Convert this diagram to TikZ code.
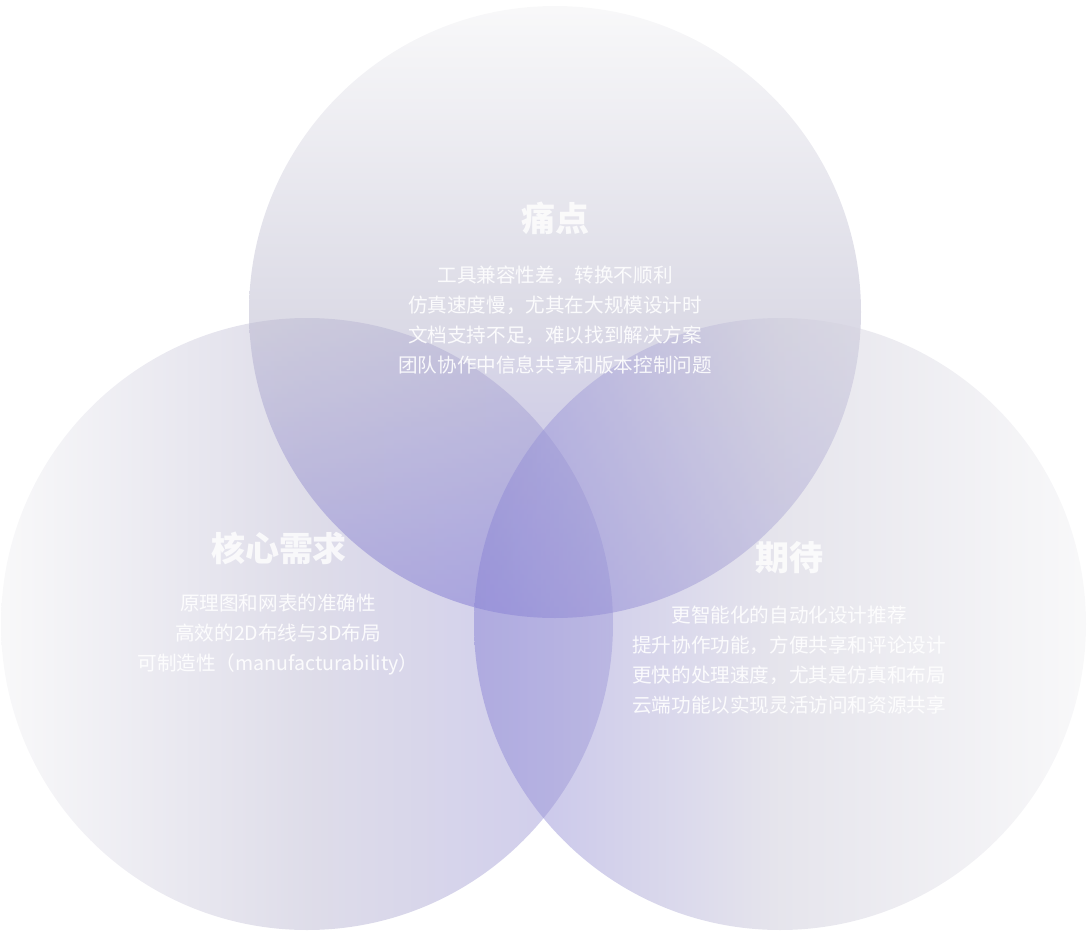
\documentclass[tikz,border=0pt]{standalone}
\usepackage{fontspec}
\setmainfont{Noto Sans CJK SC}
\usetikzlibrary{positioning}
\definecolor{mylight}{RGB}{242,242,244}
\definecolor{paintmid}{RGB}{186,184,206}
\definecolor{paintbot}{RGB}{126,118,210}
\definecolor{needmid}{RGB}{190,187,212}
\definecolor{needright}{RGB}{156,150,218}
\definecolor{hopeleft}{RGB}{138,132,214}
\definecolor{hopemid}{RGB}{205,203,218}

\begin{document}
\begin{tikzpicture}[x=0.5pt,y=-0.5pt,
    venn/.style={circle,minimum size=306pt,inner sep=0pt,fill opacity=0.5},
    title/.style={font=\bfseries\fontsize{17}{20}\selectfont,text=white,text opacity=0.8},
    lines/.style={font=\fontsize{9.8}{15}\selectfont,text=white,text opacity=0.9,align=center}
    ]
    \useasboundingbox (0,0) rectangle (1089,932);

    % the circles
    \node (need) [venn,left color=mylight,right color=needright,middle color=needmid] at (307,624) {};
    \node (pain) [venn,top color=mylight,bottom color=paintbot,middle color=paintmid] at (555,312) {};
    \node (hope) [venn,left color=hopeleft,right color=mylight,middle color=hopemid] at (780,624) {};

    % the texts
    \node (painT) [title] at (555,218) {痛点};
    \node (painL) [lines] at (555,320) {工具兼容性差，转换不顺利\\仿真速度慢，尤其在大规模设计时\\文档支持不足，难以找到解决方案\\团队协作中信息共享和版本控制问题};
    \node (needT) [title] at (279,548) {核心需求};
    \node (needL) [lines] at (278,635) {原理图和网表的准确性\\高效的2D布线与3D布局\\可制造性（manufacturability）};
    \node (hopeT) [title] at (789,558) {期待};
    \node (hopeL) [lines] at (789,660) {更智能化的自动化设计推荐\\提升协作功能，方便共享和评论设计\\更快的处理速度，尤其是仿真和布局\\云端功能以实现灵活访问和资源共享};
\end{tikzpicture}
\end{document}
